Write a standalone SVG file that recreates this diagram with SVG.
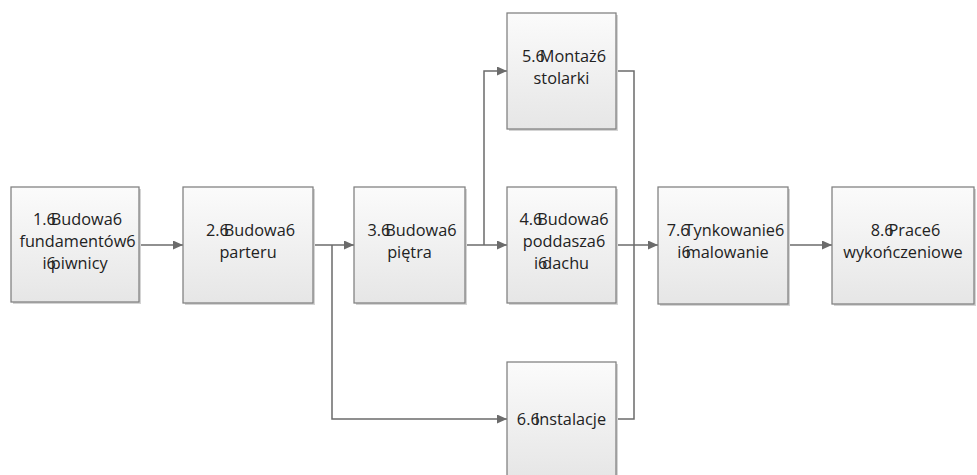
<svg xmlns="http://www.w3.org/2000/svg" width="977" height="475" viewBox="0 0 977 475">
  <defs>
    <linearGradient id="boxFill" x1="0" y1="0" x2="0" y2="1">
      <stop offset="0" stop-color="#fbfbfb"/>
      <stop offset="1" stop-color="#e6e6e6"/>
    </linearGradient>
    <marker id="arrow" markerUnits="userSpaceOnUse" markerWidth="11" markerHeight="9" refX="10" refY="4.5" orient="auto">
      <path d="M0,0 L10,4.5 L0,9 Z" fill="#6b6b6b"/>
    </marker>
    <style>
      .shadow { fill: #d4d4d4; }
      .box { fill: url(#boxFill); stroke: #7f7f7f; stroke-width: 1.25; }
      .lbl { font-family: "Open Sans", "Liberation Sans", sans-serif; font-size: 16.3px; fill: #222222; text-anchor: middle; }
      .conn { fill: none; stroke: #6b6b6b; stroke-width: 1.5; }
    </style>
  </defs>

  <rect width="977" height="475" fill="#ffffff"/>

  <!-- connectors -->
  <g id="connectors">
    <path class="conn" d="M139,245 H183" marker-end="url(#arrow)"/>
    <path class="conn" d="M313,245 H354" marker-end="url(#arrow)"/>
    <path class="conn" d="M332,245 V419 H507" marker-end="url(#arrow)"/>
    <path class="conn" d="M465,245 H507" marker-end="url(#arrow)"/>
    <path class="conn" d="M484,245 V71 H507" marker-end="url(#arrow)"/>
    <path class="conn" d="M616,71 H634 V245"/>
    <path class="conn" d="M616,419 H634 V245"/>
    <path class="conn" d="M616,245 H658" marker-end="url(#arrow)"/>
    <path class="conn" d="M788,245 H832" marker-end="url(#arrow)"/>
  </g>

  <!-- 1. foundations and basement -->
  <g id="node1">
    <rect class="shadow" x="13" y="189" width="128" height="115"/>
    <rect class="box" x="11" y="187" width="128" height="115"/>
    <text class="lbl" x="77.5" y="224.5" dx="0 0 0 -5">1.6Budowa6</text>
    <text class="lbl" x="77.5" y="246.5">fundamentów6</text>
    <text class="lbl" x="75" y="268.5" dx="0 0 -5">i6piwnicy</text>
  </g>

  <!-- 2. ground floor -->
  <g id="node2">
    <rect class="shadow" x="185" y="189" width="130" height="116"/>
    <rect class="box" x="183" y="187" width="130" height="116"/>
    <text class="lbl" x="250.5" y="235.5" dx="0 0 0 -5">2.6Budowa6</text>
    <text class="lbl" x="248" y="257.5">parteru</text>
  </g>

  <!-- 3. upper floor -->
  <g id="node3">
    <rect class="shadow" x="356" y="189" width="111" height="116"/>
    <rect class="box" x="354" y="187" width="111" height="116"/>
    <text class="lbl" x="412" y="235.5" dx="0 0 0 -5">3.6Budowa6</text>
    <text class="lbl" x="409.5" y="257.5">piętra</text>
  </g>

  <!-- 5. joinery -->
  <g id="node5">
    <rect class="shadow" x="509" y="15" width="109" height="116"/>
    <rect class="box" x="507" y="13" width="109" height="116"/>
    <text class="lbl" x="564" y="61.5" dx="0 0 0 -5">5.6Montaż6</text>
    <text class="lbl" x="561.5" y="83.5">stolarki</text>
  </g>

  <!-- 4. attic and roof -->
  <g id="node4">
    <rect class="shadow" x="509" y="189" width="109" height="116"/>
    <rect class="box" x="507" y="187" width="109" height="116"/>
    <text class="lbl" x="564" y="224.5" dx="0 0 0 -5">4.6Budowa6</text>
    <text class="lbl" x="564" y="246.5">poddasza6</text>
    <text class="lbl" x="561.5" y="268.5" dx="0 0 -5">i6dachu</text>
  </g>

  <!-- 6. installations -->
  <g id="node6">
    <rect class="shadow" x="509" y="364" width="109" height="116"/>
    <rect class="box" x="507" y="362" width="109" height="116"/>
    <text class="lbl" x="561.5" y="425" dx="0 0 0 -5">6.6Instalacje</text>
  </g>

  <!-- 7. plastering and painting -->
  <g id="node7">
    <rect class="shadow" x="660" y="189" width="130" height="117"/>
    <rect class="box" x="658" y="187" width="130" height="117"/>
    <text class="lbl" x="725.5" y="235.5" dx="0 0 0 -5">7.6Tynkowanie6</text>
    <text class="lbl" x="723" y="257.5" dx="0 0 -5">i6malowanie</text>
  </g>

  <!-- 8. finishing works -->
  <g id="node8">
    <rect class="shadow" x="834" y="189" width="142" height="117"/>
    <rect class="box" x="832" y="187" width="142" height="117"/>
    <text class="lbl" x="905.5" y="235.5" dx="0 0 0 -5">8.6Prace6</text>
    <text class="lbl" x="903" y="257.5">wykończeniowe</text>
  </g>
</svg>
